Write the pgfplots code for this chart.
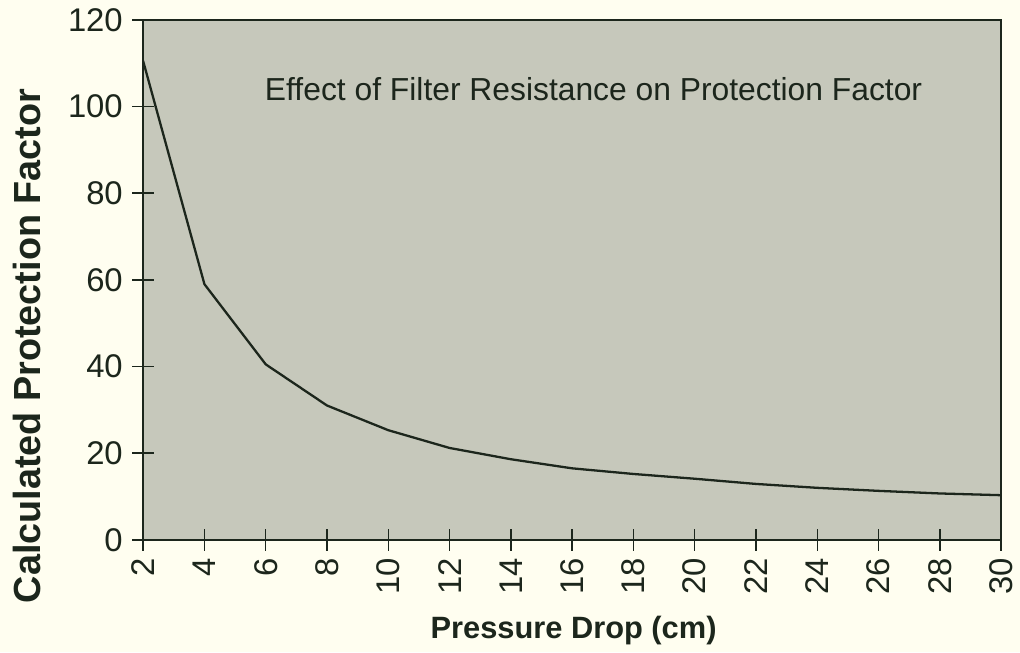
\documentclass[border=0pt]{standalone}
\usepackage{pgfplots}
\pgfplotsset{compat=1.18}
\usepackage{fontspec}
\setmainfont{Liberation Sans}
\definecolor{bg}{RGB}{255,254,240}
\definecolor{plotbg}{RGB}{198,200,187}
\definecolor{ink}{RGB}{28,38,28}
\begin{document}
\begin{tikzpicture}
\fill[bg] (-144pt,-113pt) rectangle (882pt,543pt);
\begin{axis}[
  at={(0,0)}, anchor=south west,
  scale only axis, width=863pt, height=523pt,
  xmin=2, xmax=30, ymin=0, ymax=120,
  xtick={2,4,...,30}, ytick={0,20,...,120},
  xtick pos=bottom, ytick pos=left,
  tick align=center, major tick length=22pt,
  axis line style={ink, line width=1.6pt},
  every tick/.style={ink, line width=1.4pt},
  axis background/.style={fill=plotbg},
  /pgf/number format/assume math mode=true,
  ticklabel style={font=\fontsize{33}{38}\selectfont, text=ink},
  xticklabel style={rotate=90, anchor=east, inner sep=0pt, xshift=-7pt},
  yticklabel style={xshift=-6pt},
  xlabel={\textbf{Pressure Drop (cm)}},
  xlabel style={font=\fontsize{31}{36}\selectfont, text=ink, at={(rel axis cs:0.5017,-0.174)}, anchor=center},
  ylabel={\textbf{Calculated Protection Factor}},
  ylabel style={font=\fontsize{38}{42}\selectfont, text=ink, at={(rel axis cs:-0.1356,0.3728)}, anchor=center},
  clip=false,
]
\addplot[ink, line width=2.3pt] coordinates {
 (2,110.5) (4,59) (6,40.5) (8,31) (10,25.3) (12,21.2) (14,18.6) (16,16.5)
 (18,15.2) (20,14.1) (22,12.9) (24,12.0) (26,11.3) (28,10.7) (30,10.3)};
\node[font=\fontsize{32}{36}\selectfont, text=ink] at (axis cs:16.7,104) {Effect of Filter Resistance on Protection Factor};
\end{axis}
\pgfresetboundingbox
\useasboundingbox (-144pt,-113pt) rectangle (882pt,543pt);
\end{tikzpicture}
\end{document}
